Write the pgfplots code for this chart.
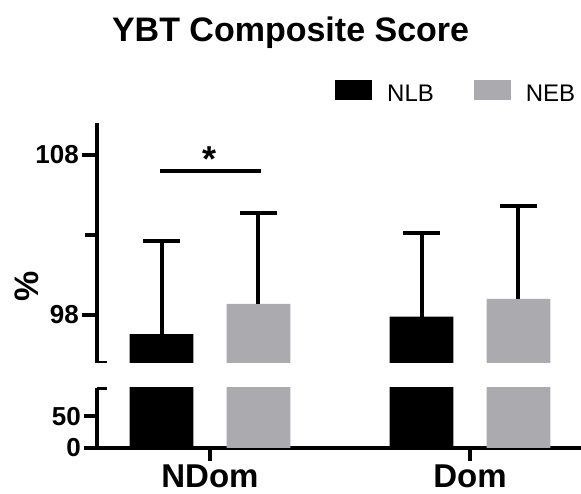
\documentclass[border=0pt]{standalone}
\usepackage{pgfplots}
\pgfplotsset{compat=1.18}
\usepackage{fontspec}
\setmainfont{Liberation Sans}
\definecolor{nebgray}{RGB}{170,170,175}
\newcommand{\tfs}[1]{\fontsize{#1}{#1}\selectfont}
\pgfplotsset{
  common/.style={
    scale only axis, width=484pt,
    xmin=-0.4346, xmax=1.4269,
    /pgf/number format/assume math mode=true,
    ticklabel style={font=\bfseries\tfs{26}},
    yticklabel style={inner sep=3pt},
    clip=true,
  },
  lines/.style={
    axis line style={-, line width=4pt, black},
    xtick align=outside, ytick align=outside,
    tick style={line width=4pt, black},
    major tick length=15pt, minor tick length=12pt,
  },
  errs/.style={error bars/.cd, y dir=plus, y explicit,
    error bar style={line width=4pt, black},
    error mark options={rotate=90, line width=4pt, black, mark size=18.5pt}},
}
\pgfplotstableread{
x val err
-0.1865 96.8 5.8
0.8135 97.9 5.2
}\nlb
\pgfplotstableread{
x val err
0.1865 98.7 5.7
1.1865 99.0 5.8
}\neb
\begin{document}
\begin{tikzpicture}
\path[use as bounding box] (0pt,0pt) rectangle (581pt,494pt);
% upper segment
\begin{axis}[common,
  at={(97pt,131pt)}, anchor=south west, height=240pt,
  ymin=95, ymax=110,
  axis x line=none, axis y line=left,
  lines,
  ytick={98,108}, minor ytick={103},
  title={YBT Composite Score},
  title style={font=\bfseries\tfs{34}, at={(0.40,1.3125)}, anchor=base, inner sep=0pt},
  ylabel={\%},
  ylabel style={font=\bfseries\tfs{34}, at={(-0.1446,0.32)}, anchor=center},
  legend columns=2,
  legend style={draw=none, fill=none, inner sep=0pt, at={(0.4917,1.0833)}, anchor=south west,
    font=\tfs{24}, nodes={inner sep=0pt},
    /tikz/every odd column/.append style={column sep=15pt},
    /tikz/every even column/.append style={column sep=40pt}},
  legend image code/.code={\fill[#1] (0pt,-6.4pt) rectangle (37pt,13.6pt);},
]
\addplot[ybar, bar width=0.246, bar shift=0pt, fill=black, draw=none, errs]
  table[x=x, y=val, y error=err] {\nlb};
\addlegendentry{NLB}
\addplot[ybar, bar width=0.246, bar shift=0pt, fill=nebgray, draw=none, errs]
  table[x=x, y=val, y error=err] {\neb};
\addlegendentry{NEB}
\draw[line width=4pt] (axis cs:-0.192,107) -- (axis cs:0.196,107);
\node[font=\bfseries\tfs{36}, inner sep=0pt] at (axis cs:0,107.75) {*};
\draw[line width=4pt] ([xshift=-10pt]rel axis cs:0,0) -- ([xshift=10pt]rel axis cs:0,0);
\end{axis}
% lower segment
\begin{axis}[common,
  at={(97pt,46pt)}, anchor=south west, height=60pt,
  ymin=0, ymax=95,
  axis x line=bottom, axis y line=left,
  lines,
  ytick={0,50}, xtick={0,1}, xticklabels={NDom,Dom},
  x tick label style={font=\bfseries\tfs{33}, inner sep=0pt, yshift=-4pt},
  major tick length=13pt,
]
\addplot[ybar, bar width=0.246, bar shift=0pt, fill=black, draw=none]
  table[x=x, y=val] {\nlb};
\addplot[ybar, bar width=0.246, bar shift=0pt, fill=nebgray, draw=none]
  table[x=x, y=val] {\neb};
\draw[line width=4pt] ([xshift=-2pt]rel axis cs:0,1) -- ([xshift=10pt]rel axis cs:0,1);
\end{axis}
\end{tikzpicture}
\end{document}
